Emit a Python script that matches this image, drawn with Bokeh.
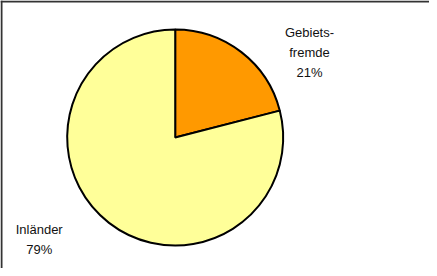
import math
from bokeh.plotting import figure
from bokeh.models import Range1d, Span, ColumnDataSource
from bokeh.core.properties import value
from bokeh.embed import file_html
from bokeh.resources import INLINE

# ---- data ----
categories = ["Gebietsfremde", "Inländer"]
label_names = ["Gebiets-\nfremde", "Inländer"]
shares = [21, 79]
colors = ["#FF9900", "#FFFF99"]

# ---- layout (screen-like units) ----
W, H = 429, 268
CX, CY = 174.7, 131.0
R = 108
label_x = [309.0, 38.7]
label_y = [216.0, 29.0]

total = sum(shares)
starts, ends = [], []
acc = 0.0
for s in shares:
    a0 = math.pi / 2 - acc / total * 2 * math.pi
    acc += s
    a1 = math.pi / 2 - acc / total * 2 * math.pi
    starts.append(a0)
    ends.append(a1)

src = ColumnDataSource(dict(
    cat=categories, share=shares, color=colors,
    start=starts, end=ends,
    x=[CX] * len(shares), y=[CY] * len(shares),
    lx=label_x, ly=label_y,
    label=[f"{n}\n{s}%" for n, s in zip(label_names, shares)],
))

p = figure(width=W, height=H, output_backend="svg", toolbar_location=None,
           x_range=Range1d(0, W), y_range=Range1d(0, H),
           min_border=0, min_border_left=0, min_border_right=0,
           min_border_top=0, min_border_bottom=0)
p.axis.visible = False
p.grid.visible = False
p.outline_line_color = None
p.background_fill_color = "white"
p.border_fill_color = "white"

p.wedge(x="x", y="y", radius=R, radius_units="screen",
        start_angle="start", end_angle="end", direction="clock",
        fill_color="color", line_color="black", line_width=2, source=src)

p.text(x="lx", y="ly", text="label", source=src,
       text_font=value("Liberation Sans"), text_font_size="13px",
       text_align="center", text_baseline="middle", text_color="#111111",
       text_line_height=1.35)

p.add_layout(Span(location=1, dimension="height", line_color="#333333", line_width=2))
p.add_layout(Span(location=H - 1, dimension="width", line_color="#333333", line_width=2))

open("out.html", "w").write(file_html(p, INLINE))
